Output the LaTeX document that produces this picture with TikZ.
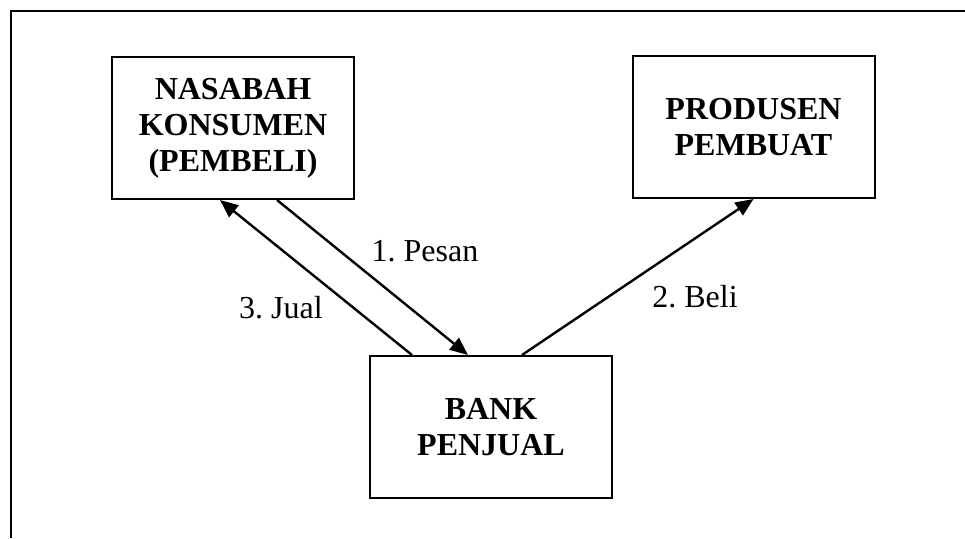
\documentclass[tikz,border=0pt]{standalone}
\usepackage{fontspec}
\setmainfont{Liberation Serif}
\usetikzlibrary{arrows.meta}
\frenchspacing
\begin{document}
\begin{tikzpicture}[x=0.5pt,y=-0.5pt,
  party/.style={draw,line width=1pt,minimum width=121pt,minimum height=71pt,
    align=center,font=\fontsize{16}{18}\selectfont\bfseries,inner sep=0pt},
  flow/.style={line width=1.2pt,-{Triangle[length=9pt,width=7.5pt]}},
  lbl/.style={anchor=base,font=\fontsize{16}{18}\selectfont,inner sep=0pt}]
\useasboundingbox (0,0) rectangle (965,538);

% open frame: top and left edges only
\coordinate (fl) at (11,538);
\coordinate (fc) at (11,11);
\coordinate (fr) at (965,11);
\draw[line width=1pt] (fl) -- (fc) -- (fr);

% parties
\node[party] (nasabah)  at (233,128)   {NASABAH\\KONSUMEN\\(PEMBELI)};
\node[party] (produsen) at (753.5,127) {PRODUSEN\\PEMBUAT};
\node[party] (bank)     at (491,427)   {BANK\\PENJUAL};

% transaction flows
\draw[flow] ([xshift=22pt]nasabah.south) -- ([xshift=-11.5pt]bank.north);
\draw[flow] ([xshift=-39.5pt]bank.north) -- ([xshift=-6.5pt]nasabah.south);
\draw[flow] ([xshift=15.5pt]bank.north) -- (produsen.south);

% flow labels
\node[lbl] (l1) at (425,261) {1. Pesan};
\node[lbl] (l2) at (695,307) {2. Beli};
\node[lbl] (l3) at (281,318) {3. Jual};
\end{tikzpicture}
\end{document}
